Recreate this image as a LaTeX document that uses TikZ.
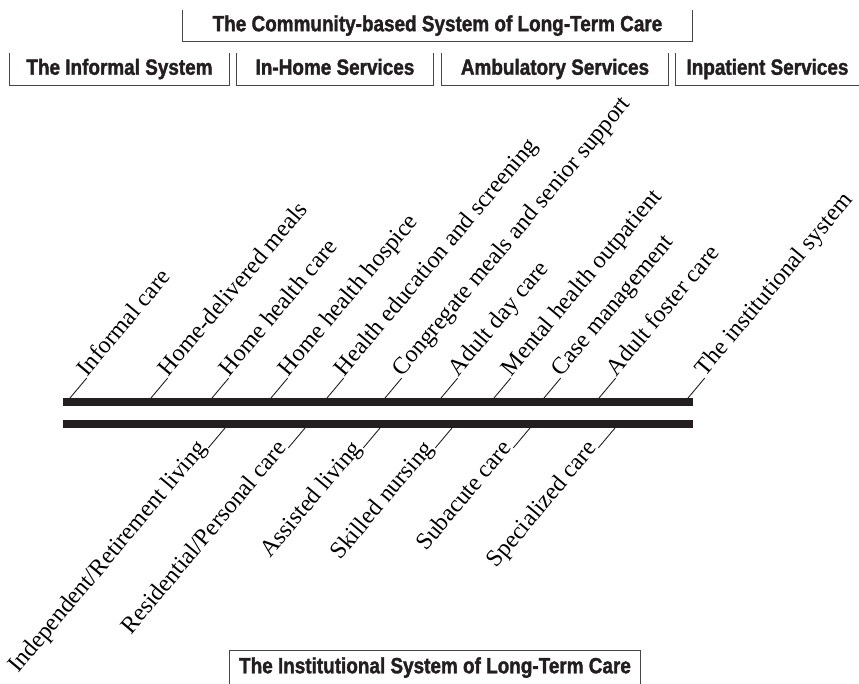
\documentclass[tikz,border=0pt]{standalone}
\usepackage{fontspec}
\usepackage{tikz}
\usetikzlibrary{positioning, calc}
\definecolor{InkBlack}{RGB}{35, 31, 32}
\definecolor{RuleGray}{RGB}{70, 70, 70}
\newfontfamily\headfont[FakeStretch=0.86, BoldFeatures={FakeBold=1.6}]{Liberation Sans}
\newfontfamily\labelfont{Liberation Serif}

\begin{document}
\begin{tikzpicture}[
    x=1pt, y=1pt,
    head/.style={inner sep=0pt, text=InkBlack, minimum height=32pt,
                 text height=16pt, text depth=4.5pt,
                 font=\headfont\bfseries\fontsize{22}{24}\selectfont},
    rule/.style={draw=RuleGray, line width=1.2pt},
    bar/.style={draw=InkBlack, line width=8pt},
    tick/.style={draw=InkBlack, line width=0.9pt},
    uplab/.style={rotate=50, anchor=base west, inner sep=1pt,
                  font=\labelfont\fontsize{24}{26}\selectfont},
    lowlab/.style={rotate=50, anchor=base east, inner sep=1pt,
                   font=\labelfont\fontsize{24}{26}\selectfont}
]
\useasboundingbox (0,0) rectangle (859,-684);

% header brackets
\node[head, minimum width=509pt, minimum height=31pt] (community) at (437.5,-25.5)
    {The Community-based System of Long-Term Care};
\node[head, minimum width=219pt] (informal) at (119.5,-69) {The Informal System};
\node[head, minimum width=196pt] (inhome) at (335,-69) {In-Home Services};
\node[head, minimum width=226pt] (ambulatory) at (555,-69) {Ambulatory Services};
\node[head, minimum width=183pt] (inpatient) at (767.5,-69) {Inpatient Services};
\node[head, minimum width=410pt, minimum height=33pt] (institutional) at (435,-667.5)
    {The Institutional System of Long-Term Care};

\draw[rule] (community.north west) |- (community.south east) -- (community.north east);
\draw[rule] (informal.north west) |- (informal.south east) -- (informal.north east);
\draw[rule] (inhome.north west) |- (inhome.south east) -- (inhome.north east);
\draw[rule] (ambulatory.north west) |- (ambulatory.south east) -- (ambulatory.north east);
\draw[rule] (inpatient.north west) |- (inpatient.south east);
\draw[rule] (institutional.south west) |- (institutional.north east) -- (institutional.south east);

% the two rails
\coordinate (railA) at (63,-402);
\coordinate (railB) at (63,-424);
\draw[bar] (railA) -- ++(630,0);
\draw[bar] (railB) -- ++(630,0);

% community side
\coordinate (u1) at (70,-398);
\coordinate (u2) at (151,-398);
\coordinate (u3) at (212,-398);
\coordinate (u4) at (271,-398);
\coordinate (u5) at (327,-398);
\coordinate (u6) at (385,-398);
\coordinate (u7) at (441,-398);
\coordinate (u8) at (494,-398);
\coordinate (u9) at (544,-398);
\coordinate (u10) at (599,-398);
\coordinate (u11) at (688,-398);

\node[uplab] (infcare) at ($(u1)+(50:26)$) {Informal care};
\node[uplab] (meals) at ($(u2)+(50:26)$) {Home-delivered meals};
\node[uplab] (homecare) at ($(u3)+(50:26)$) {Home health care};
\node[uplab] (hospice) at ($(u4)+(50:26)$) {Home health hospice};
\node[uplab] (screening) at ($(u5)+(50:26)$) {Health education and screening};
\node[uplab] (congregate) at ($(u6)+(50:26)$) {Congregate meals and senior support};
\node[uplab] (dayc) at ($(u7)+(50:26)$) {Adult day care};
\node[uplab] (mental) at ($(u8)+(50:26)$) {Mental health outpatient};
\node[uplab] (casemgmt) at ($(u9)+(50:26)$) {Case management};
\node[uplab] (foster) at ($(u10)+(50:26)$) {Adult foster care};
\node[uplab] (instsys) at ($(u11)+(50:26)$) {The institutional system};

\draw[tick] (u1) -- (infcare.base west);
\draw[tick] (u2) -- (meals.base west);
\draw[tick] (u3) -- (homecare.base west);
\draw[tick] (u4) -- (hospice.base west);
\draw[tick] (u5) -- (screening.base west);
\draw[tick] (u6) -- (congregate.base west);
\draw[tick] (u7) -- (dayc.base west);
\draw[tick] (u8) -- (mental.base west);
\draw[tick] (u9) -- (casemgmt.base west);
\draw[tick] (u10) -- (foster.base west);
\draw[tick] (u11) -- (instsys.base west);

% institutional side
\coordinate (d1) at (225,-428);
\coordinate (d2) at (305,-428);
\coordinate (d3) at (380,-428);
\coordinate (d4) at (452,-428);
\coordinate (d5) at (530,-428);
\coordinate (d6) at (615,-428);

\node[lowlab] (independent) at ($(d1)+(230:26)$) {Independent/Retirement living};
\node[lowlab] (residential) at ($(d2)+(230:26)$) {Residential/Personal care};
\node[lowlab] (assisted) at ($(d3)+(230:26)$) {Assisted living};
\node[lowlab] (skilled) at ($(d4)+(230:26)$) {Skilled nursing};
\node[lowlab] (subacute) at ($(d5)+(230:26)$) {Subacute care};
\node[lowlab] (specialized) at ($(d6)+(230:26)$) {Specialized care};

\draw[tick] (d1) -- (independent.base east);
\draw[tick] (d2) -- (residential.base east);
\draw[tick] (d3) -- (assisted.base east);
\draw[tick] (d4) -- (skilled.base east);
\draw[tick] (d5) -- (subacute.base east);
\draw[tick] (d6) -- (specialized.base east);
\end{tikzpicture}
\end{document}
